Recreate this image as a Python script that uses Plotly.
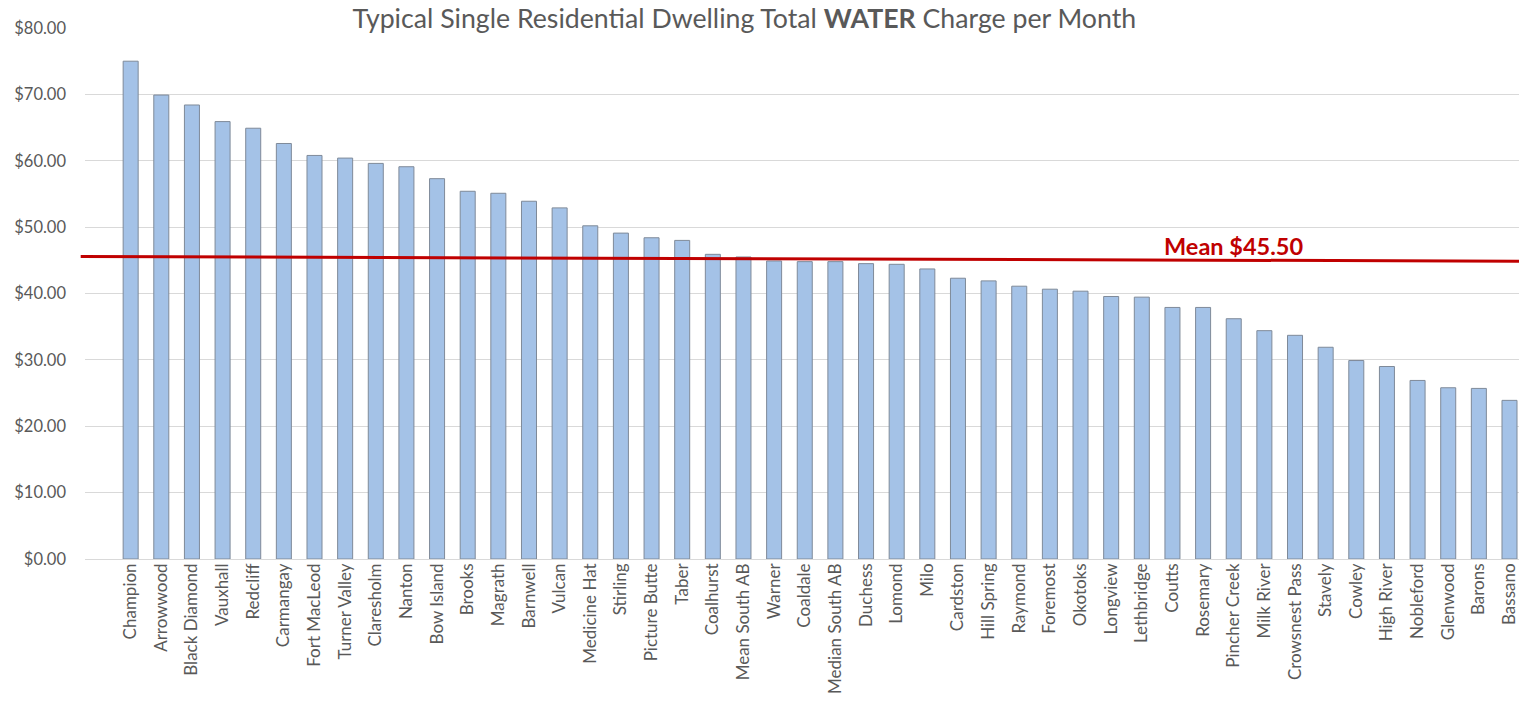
import plotly.graph_objects as go

towns = ["Champion", "Arrowwood", "Black Diamond", "Vauxhall", "Redcliff", "Carmangay",
         "Fort MacLeod", "Turner Valley", "Claresholm", "Nanton", "Bow Island", "Brooks",
         "Magrath", "Barnwell", "Vulcan", "Medicine Hat", "Stirling", "Picture Butte",
         "Taber", "Coalhurst", "Mean South AB", "Warner", "Coaldale", "Median South AB",
         "Duchess", "Lomond", "Milo", "Cardston", "Hill Spring", "Raymond", "Foremost",
         "Okotoks", "Longview", "Lethbridge", "Coutts", "Rosemary", "Pincher Creek",
         "Milk River", "Crowsnest Pass", "Stavely", "Cowley", "High River", "Nobleford",
         "Glenwood", "Barons", "Bassano"]

water_charge = [75.0, 69.9, 68.4, 65.9, 64.9, 62.6,
                60.8, 60.4, 59.6, 59.1, 57.3, 55.4,
                55.1, 53.9, 52.9, 50.2, 49.1, 48.4,
                48.0, 45.9, 45.5, 44.9, 44.8, 44.8,
                44.5, 44.4, 43.7, 42.3, 41.9, 41.1, 40.65,
                40.35, 39.55, 39.45, 37.9, 37.9, 36.2,
                34.4, 33.7, 31.9, 29.9, 29.0, 26.9,
                25.8, 25.7, 23.9]

y_ticks = [0, 10, 20, 30, 40, 50, 60, 70, 80]
mean_label = "Mean $45.50"
mean_line_start = 45.57
mean_line_end = 44.87
title_text = "Typical Single Residential Dwelling Total <b>WATER</b> Charge per Month"

FONT = "Lato"
GREY = "#595959"

fig = go.Figure()
fig.add_trace(go.Bar(
    x=towns, y=water_charge,
    marker=dict(color="#A4C2E7", line=dict(color="#7F8A99", width=1)),
    hoverinfo="x+y",
))

fig.add_shape(type="line", xref="paper", yref="y",
              x0=-0.003, x1=1.0, y0=mean_line_start, y1=mean_line_end,
              line=dict(color="#C00000", width=3))

fig.add_annotation(text=f"<b>{mean_label}</b>", xref="paper", yref="y",
                   x=0.801, y=47.2, showarrow=False, xanchor="center", yanchor="middle",
                   font=dict(family=FONT, size=23.5, color="#C00000"))

fig.update_layout(
    width=1519, height=708,
    margin=dict(l=85, r=0, t=28, b=148.7),
    paper_bgcolor="white", plot_bgcolor="white",
    bargap=0.51,
    showlegend=False,
    title=dict(text=title_text, x=0.490, xanchor="center", y=0.973, yanchor="middle",
               font=dict(family=FONT, size=26.7, color=GREY)),
    font=dict(family=FONT, color=GREY),
)
fig.update_xaxes(range=[-1.49, 45.31], tickangle=-90, tickfont=dict(size=17, color=GREY),
                 showgrid=False, showline=False, ticks="", ticklen=0, automargin=False)
fig.update_yaxes(range=[0, 80], tickvals=y_ticks, tickformat="$.2f",
                 tickfont=dict(size=16.5, color=GREY), showgrid=True, gridcolor="#D9D9D9",
                 gridwidth=1, zeroline=True, zerolinecolor="#D9D9D9", zerolinewidth=1,
                 ticks="", ticklabelstandoff=18, automargin=False)

# remove the default 8px page margin so the 1519x708 figure fills the window exactly
fig.write_html("out.html",
               config={"displayModeBar": False},
               post_script="document.body.style.margin='0';document.body.style.overflow='hidden';")
